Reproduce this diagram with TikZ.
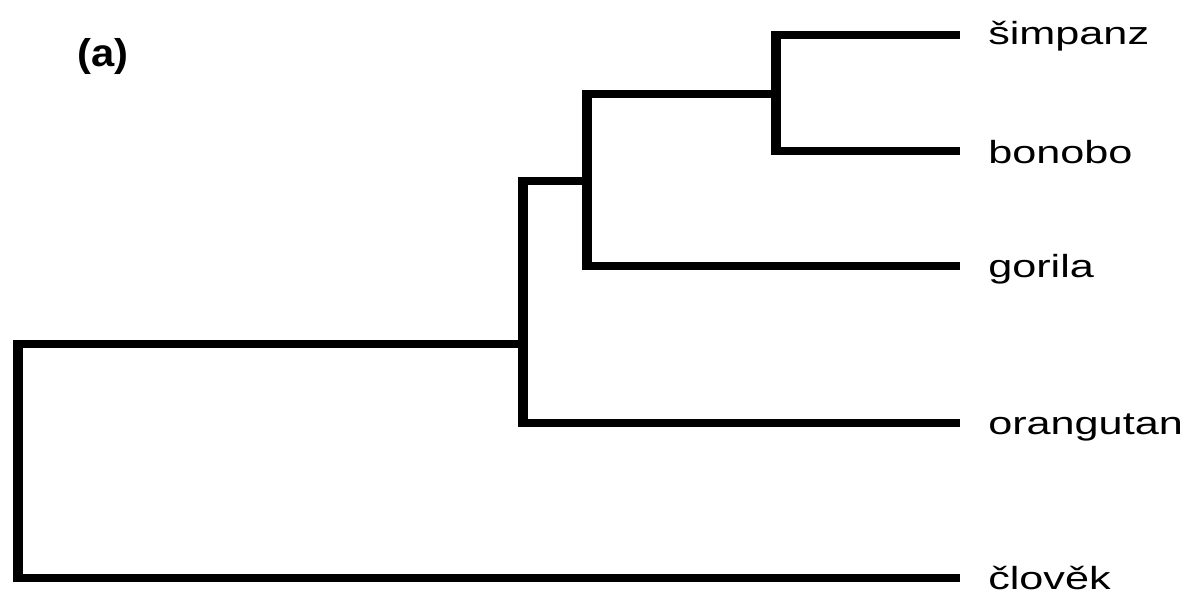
\documentclass[tikz,border=0pt]{standalone}
\usepackage{fontspec}
\setmainfont{Liberation Sans}
\begin{document}
\begin{tikzpicture}[x=0.75pt,y=-0.75pt,
  hline/.style={line width=6pt},
  vline/.style={line width=7.5pt,shorten <=-3pt,shorten >=-3pt},
  leaf/.style={anchor=base west,inner sep=0pt,font=\fontsize{24pt}{28pt}\selectfont}]
\useasboundingbox (0,0) rectangle (1190,596);
% leaf ends
\coordinate (eS) at (960,35);
\coordinate (eB) at (960,151);
\coordinate (eG) at (960,266);
\coordinate (eO) at (960,423);
\coordinate (eH) at (960,578);
% internal nodes (attachment points)
\coordinate (n4) at (776,94);
\coordinate (n3) at (587,181);
\coordinate (n2) at (523,344);
\coordinate (n1) at (18,461);
% verticals
\draw[vline] (n4|-eS) -- (n4|-eB);
\draw[vline] (n3|-n4) -- (n3|-eG);
\draw[vline] (n2|-n3) -- (n2|-eO);
\draw[vline] (n1|-n2) -- (n1|-eH);
% horizontals
\draw[hline] (n4|-eS) -- (eS);
\draw[hline] (n4|-eB) -- (eB);
\draw[hline] (n3|-n4) -- (n4);
\draw[hline] (n3|-eG) -- (eG);
\draw[hline] (n2|-n3) -- (n3);
\draw[hline] (n2|-eO) -- (eO);
\draw[hline] (n1|-n2) -- (n2);
\draw[hline] (n1|-eH) -- (eH);
% labels
\node[leaf] (lS) at (988,45) {\scalebox{1.35}[1]{šimpanz}};
\node[leaf] (lB) at (988,163) {\scalebox{1.35}[1]{bonobo}};
\node[leaf] (lG) at (988,277) {\scalebox{1.35}[1]{gorila}};
\node[leaf] (lO) at (988,434) {\scalebox{1.35}[1]{orangutan}};
\node[leaf] (lH) at (988,589) {\scalebox{1.35}[1]{člověk}};
\node[anchor=base west,inner sep=0pt,font=\fontsize{29pt}{33pt}\selectfont\bfseries] (title) at (77,66) {\scalebox{1.08}[1]{(a)}};
\end{tikzpicture}
\end{document}
